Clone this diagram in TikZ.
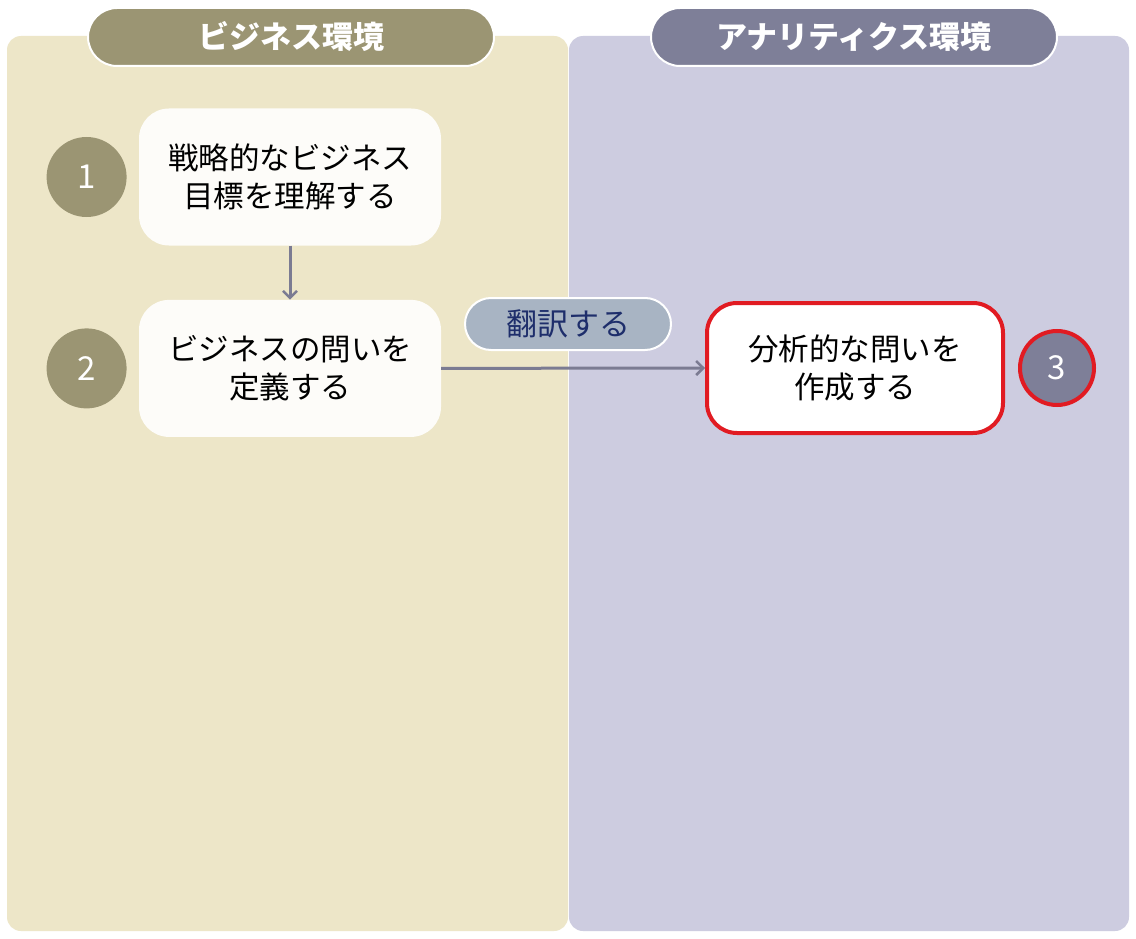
\documentclass[tikz,border=0pt]{standalone}
\usepackage{fontspec}
\newfontfamily\jp{Noto Sans CJK JP}
\usetikzlibrary{positioning,arrows.meta}
\definecolor{olivebg}{HTML}{EDE6C8}
\definecolor{lilacbg}{HTML}{CDCCE0}
\definecolor{olivehd}{HTML}{9B9573}
\definecolor{lilachd}{HTML}{7E7F98}
\definecolor{boxwhite}{HTML}{FDFCF9}
\definecolor{tagfill}{HTML}{A8B4C3}
\definecolor{tagtext}{HTML}{1E2E6B}
\definecolor{linkgray}{HTML}{7B7B92}
\definecolor{hilite}{HTML}{E11B22}

\begin{document}
\begin{tikzpicture}[x=1pt, y=-1pt, font=\jp,
            header/.style={draw=white, line width=2pt, rounded corners=29pt,
                minimum width=406pt, minimum height=58pt, text=white,
                font=\jp\bfseries\fontsize{31}{31}\selectfont},
            box/.style={fill=boxwhite, rounded corners=30pt, align=center,
                minimum width=302pt, minimum height=137pt,
                font=\jp\fontsize{30.5}{38}\selectfont},
            num/.style={circle, minimum size=80pt, text=white,
                font=\jp\fontsize{33}{33}\selectfont},
            link/.style={draw=linkgray, line width=3pt,
                -{Straight Barb[length=7pt, width=14pt, line width=2.5pt]}}]
        \useasboundingbox (0,0) rectangle (1136,939);
        \fill[white] (0,0) rectangle (1136,939);

        \fill[olivebg, rounded corners=14pt] (7,36) rectangle (568,931);
        \fill[lilacbg, rounded corners=14pt] (569,36) rectangle (1129,931);

        \node[header, fill=olivehd] (bizhead) at (291,37) {ビジネス環境};
        \node[header, fill=lilachd] (anahead) at (854,37) {アナリティクス環境};

        \node[box] (goal) at (290,177) {戦略的なビジネス\\目標を理解する};
        \node[box, below=54pt of goal] (bizq) {ビジネスの問いを\\定義する};
        \node[box, fill=white, draw=hilite, line width=4pt, minimum width=296pt,
              minimum height=130pt] (anaq) at (855,368) {分析的な問いを\\作成する};

        \node[num, fill=olivehd, left=12pt of goal] (numA) {1};
        \node[num, fill=olivehd, left=12pt of bizq] (numB) {2};
        \node[num, fill=lilachd, draw=hilite, line width=4pt, minimum size=74pt,
              right=13pt of anaq] (numC) {3};

        \draw[link] (goal) -- (bizq);
        \draw[link] (bizq.east) -- (anaq.west);

        \node[draw=white, line width=2pt, fill=tagfill, rounded corners=26pt,
              minimum width=206pt, minimum height=52pt, text=tagtext,
              font=\jp\fontsize{31}{31}\selectfont] (translate) at (568,324) {翻訳する};
\end{tikzpicture}
\end{document}
